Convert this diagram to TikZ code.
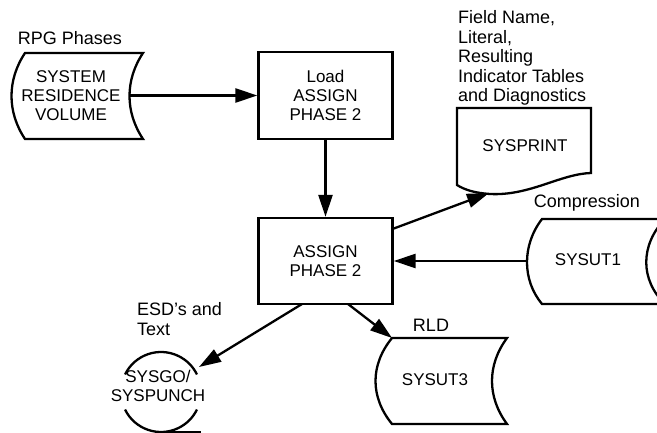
\documentclass[tikz,border=0pt]{standalone}
\usepackage{fontspec}
\setmainfont{Liberation Sans}
\usetikzlibrary{arrows.meta}
\begin{document}
\begin{tikzpicture}[x=1pt,y=-1pt,line width=2.3pt,
  boxtext/.style={font=\fontsize{17}{19}\selectfont,align=center,inner sep=0pt},
  lbl/.style={font=\fontsize{18}{19.5}\selectfont,align=left,inner sep=0pt},
  flow/.style={-{Triangle[length=22pt,width=14pt]}},
  procbox/.style={draw,minimum width=134pt,minimum height=87pt,inner sep=0pt,boxtext}]
\useasboundingbox (0,0) rectangle (657,433);
\begin{scope}
\clip (0,0) rectangle (657,433);
% storage shapes
\draw (25,53) -- (143,53) .. controls (125,80) and (125,112) .. (143,139)
  -- (25,139) .. controls (7,112) and (7,80) .. cycle;
\draw (457,108) -- (591,108) -- (591,173) .. controls (560,174) and (530,196) .. (490,194)
  .. controls (475,193) and (465,190) .. (457,185) -- cycle;
\draw (542,219) -- (665,219) .. controls (640,245) and (640,280) .. (665,304)
  -- (542,304) .. controls (522,280) and (522,245) .. cycle;
\draw (392,338) -- (507,338) .. controls (487,365) and (487,397) .. (507,424)
  -- (392,424) .. controls (370,397) and (370,365) .. cycle;
\coordinate (goC) at (161,392);
\draw ([shift={(154:40pt)}]goC) arc[start angle=154,end angle=26,radius=40pt];
\draw ([shift={(206:40pt)}]goC) arc[start angle=206,end angle=334,radius=40pt];
\draw ([shift={(270:40pt)}]goC) -- ++(40,0);
\end{scope}
% nodes
\node[procbox] (load) at (325.5,95.5) {Load\\ASSIGN\\PHASE 2};
\node[procbox,minimum height=86pt] (assign) at (325.5,261) {ASSIGN\\PHASE 2};
\node[boxtext] (sysres) at (71,96) {SYSTEM\\RESIDENCE\\VOLUME};
\node[boxtext] (sysprint) at (525,146) {SYSPRINT};
\node[boxtext] (sysut1) at (588,260) {SYSUT1};
\node[boxtext] (sysut3) at (435,380) {SYSUT3};
\node[boxtext] (sysgo) at (158,386) {SYSGO/\\SYSPUNCH};
% labels
\node[lbl] (rpg) at (70,38) {RPG Phases};
\node[lbl,anchor=west] (fieldlbl) at (457,58) {Field Name,\\Literal,\\Resulting\\Indicator Tables\\and Diagnostics};
\node[lbl] (comp) at (587,203) {Compression};
\node[lbl,anchor=west] (esd) at (136,319) {ESD's and\\Text};
\node[lbl] (rld) at (431,325) {RLD};
% connector points
\coordinate (sysresE) at (129,95.5);
\coordinate (assignNE) at (392.5,229);
\coordinate (printB) at (489,193);
\coordinate (ut1W) at (527,261);
\coordinate (assignS1) at (302,304);
\coordinate (goNE) at (199,367);
\coordinate (assignS2) at (348,304);
\coordinate (ut3NW) at (392,338);
% connectors
\draw[flow] (sysresE) -- (load.west);
\draw[flow] (load.south) -- (assign.north);
\draw[flow] (assignNE) -- (printB);
\draw[flow] (ut1W) -- (assign.east);
\draw[flow] (assignS1) -- (goNE);
\draw[flow] (assignS2) -- (ut3NW);
\end{tikzpicture}
\end{document}
